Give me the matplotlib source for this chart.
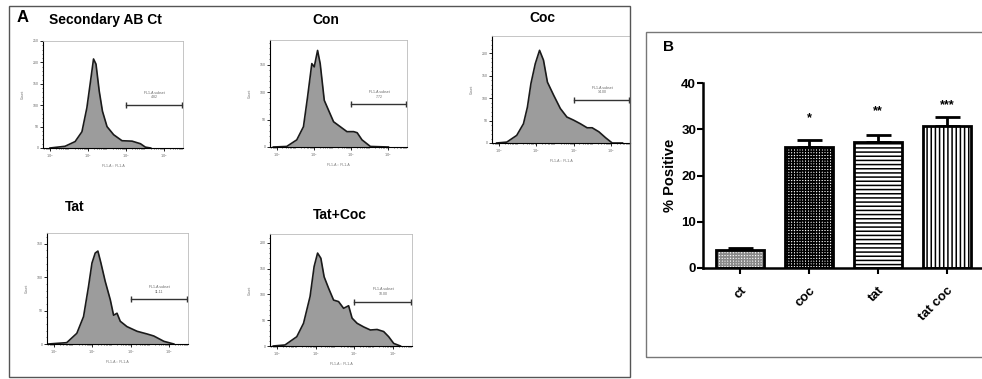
import numpy as np
import matplotlib
matplotlib.use("Agg")
import matplotlib.pyplot as plt
from matplotlib.patches import Rectangle

plt.rcParams["font.family"] = ["Liberation Sans", "DejaVu Sans"]
plt.rcParams["hatch.linewidth"] = 1.1

W, H = 982, 379

# ---- panel A: flow cytometry histograms (x = log10 FL1-A, y = count) ----
sec_x = [0.0, 0.79, 1.32, 1.68, 1.94, 2.11, 2.29, 2.42, 2.59, 2.76, 3.0, 3.35, 3.79, 4.32, 4.76, 5.02, 5.3]
sec_y = [0, 4, 15, 38, 94, 149, 208, 196, 133, 86, 50, 31, 17, 16, 10, 2, 0]

con_x = [-0.19, 0.53, 1.07, 1.43, 1.65, 1.88, 2.01, 2.19, 2.33, 2.55, 2.78, 3.05, 3.41, 3.77, 4.13, 4.32, 4.58, 5.03, 6.0]
con_y = [0, 1, 13, 37, 91, 152, 146, 176, 152, 85, 67, 46, 37, 28, 28, 26, 13, 1, 0]

coc_x = [-0.12, 0.42, 0.95, 1.31, 1.52, 1.71, 1.94, 2.17, 2.38, 2.59, 2.92, 3.28, 3.63, 3.99, 4.35, 4.71, 4.98, 5.34, 5.69, 6.05, 6.6]
coc_y = [0, 2, 17, 43, 80, 133, 177, 207, 185, 136, 107, 77, 58, 51, 43, 34, 34, 25, 12, 0, 0]

tat_x = [-0.3, 0.66, 1.19, 1.54, 1.80, 1.98, 2.15, 2.29, 2.45, 2.67, 2.94, 3.11, 3.29, 3.46, 3.81, 4.34, 4.86, 5.21, 5.74, 6.26]
tat_y = [0, 2, 16, 41, 86, 121, 136, 139, 121, 94, 66, 43, 46, 34, 26, 19, 15, 12, 4, 0]

tc_x = [-0.2, 0.41, 1.02, 1.37, 1.71, 1.92, 2.10, 2.27, 2.44, 2.67, 2.93, 3.19, 3.45, 3.71, 3.89, 4.15, 4.49, 4.84, 5.19, 5.53, 5.79, 6.05, 6.4]
tc_y = [0, 2, 18, 44, 96, 154, 180, 170, 134, 112, 89, 86, 73, 78, 54, 44, 37, 31, 32, 28, 18, 5, 0]

titles = ["Secondary AB Ct", "Con", "Coc", "Tat", "Tat+Coc"]
subset_pct = ["4.82", "7.72", "14.00", "11.11", "10.00"]
gate_y = [101, 78, 97, 67, 86]
y_max = [250, 195, 239, 166, 217]

# ---- panel B: bar chart ----
groups = ["ct", "coc", "tat", "tat coc"]
pct_pos = [3.9, 26.2, 27.2, 30.6]
pct_err = [0.4, 1.4, 1.5, 2.0]
signif = ["", "*", "**", "***"]
signif_y = [0, 32.3, 34.0, 35.3]


def px_rect(l, t, r, b):
    return [l / W, 1 - b / H, (r - l) / W, (b - t) / H]


fig = plt.figure(figsize=(W / 100, H / 100), dpi=100)

# panel frames
fig.patches.append(Rectangle((9 / W, 1 - 377 / H), 621 / W, 371 / H, transform=fig.transFigure,
                             fill=False, edgecolor="#555555", linewidth=1.0))
fig.patches.append(Rectangle((646 / W, 1 - 357 / H), 340 / W, 325 / H, transform=fig.transFigure,
                             fill=False, edgecolor="#777777", linewidth=1.0))
fig.text(17 / W, 1 - 17 / H, "A", fontsize=12, fontweight="bold", va="center", ha="left")
fig.text(663 / W, 1 - 47 / H, "B", fontsize=11, fontweight="bold", va="center", ha="left")

hist_boxes = [(43, 41, 183, 148), (270, 40, 407, 147), (492, 36, 630, 143),
              (47, 233, 188, 344), (270, 234, 412, 346)]
title_pos = [(105, 20), (326, 20), (542, 18), (75, 207), (340, 215)]
hist_data = [(sec_x, sec_y), (con_x, con_y), (coc_x, coc_y), (tat_x, tat_y), (tc_x, tc_y)]

for i in range(5):
    ax = fig.add_axes(px_rect(*hist_boxes[i]))
    xs = 10 ** np.array(hist_data[i][0])
    ys = np.array(hist_data[i][1])
    ax.fill_between(xs, ys, color="#9c9c9c", linewidth=0)
    ax.plot(xs, ys, color="#1a1a1a", linewidth=1.2)
    ax.set_xscale("log")
    ax.set_xlim(10 ** -0.37, 10 ** 7.0)
    ax.set_ylim(0, y_max[i])
    ax.set_xticks([1, 1e2, 1e4, 1e6])
    ax.set_xticklabels(["$10^0$", "$10^2$", "$10^4$", "$10^6$"])
    ax.set_yticks(np.arange(0, y_max[i] + 1, 50))
    ax.minorticks_on()
    ax.tick_params(labelsize=2.5, labelcolor="#666666", length=2, width=0.6, pad=1)
    ax.tick_params(which="minor", length=1, width=0.4)
    for s in ["top", "right"]:
        ax.spines[s].set_color("#bbbbbb")
        ax.spines[s].set_linewidth(0.6)
    for s in ["left", "bottom"]:
        ax.spines[s].set_linewidth(0.8)
    ax.set_ylabel("Count", fontsize=2.5, color="#777777", labelpad=6)
    ax.set_xlabel("FL1-A :: FL1-A", fontsize=2.5, color="#777777", labelpad=3)
    # gate marker
    ax.plot([1e4, 10 ** 6.97], [gate_y[i], gate_y[i]], color="#333333", linewidth=1.0,
            marker="|", markersize=4, markeredgewidth=1.0, clip_on=False)
    ax.text(10 ** 5.5, gate_y[i] + y_max[i] * 0.05, "FL1-A subset\n" + subset_pct[i],
            fontsize=2.5, color="#666666", ha="center", va="bottom", linespacing=1.2)
    fig.text(title_pos[i][0] / W, 1 - title_pos[i][1] / H, titles[i], fontsize=10,
             fontweight="bold", ha="center", va="center")

# bar chart
axb = fig.add_axes(px_rect(703, 83, 982, 268))
pos = np.arange(len(groups))
hatches = ["++++++", "++++++", "----", "||||"]
hcolors = ["#8a8a8a", "black", "black", "black"]
for k in range(len(groups)):
    axb.bar(pos[k], pct_pos[k], width=0.70, color="white", edgecolor=hcolors[k],
            hatch=hatches[k], linewidth=0, zorder=2)
axb.bar(pos, pct_pos, width=0.70, color="none", edgecolor="black", linewidth=2.0, zorder=3)
axb.errorbar(pos, pct_pos, yerr=[np.zeros(len(groups)), pct_err], fmt="none",
             ecolor="black", elinewidth=2.0, capsize=9, capthick=2.0, zorder=1)
for k in range(len(groups)):
    if signif[k]:
        axb.text(pos[k], signif_y[k], signif[k], ha="center", va="center",
                 fontsize=9, fontweight="bold")
axb.set_xlim(-0.54, 3.51)
axb.set_ylim(0, 40)
axb.set_yticks([0, 10, 20, 30, 40])
axb.set_xticks(pos)
axb.set_xticklabels(groups, rotation=45, ha="right", rotation_mode="anchor")
for lab in axb.get_xticklabels() + axb.get_yticklabels():
    lab.set_fontweight("bold")
axb.tick_params(axis="x", labelsize=9.5, length=4, width=1.5, pad=8)
axb.tick_params(axis="y", labelsize=9.5, length=4, width=1.5, pad=1)
axb.spines["top"].set_visible(False)
axb.spines["right"].set_visible(False)
axb.spines["left"].set_linewidth(1.8)
axb.spines["bottom"].set_linewidth(1.8)
axb.set_ylabel("% Positive", fontsize=10.5, fontweight="bold", labelpad=3)

fig.savefig("out.png", dpi=100)
